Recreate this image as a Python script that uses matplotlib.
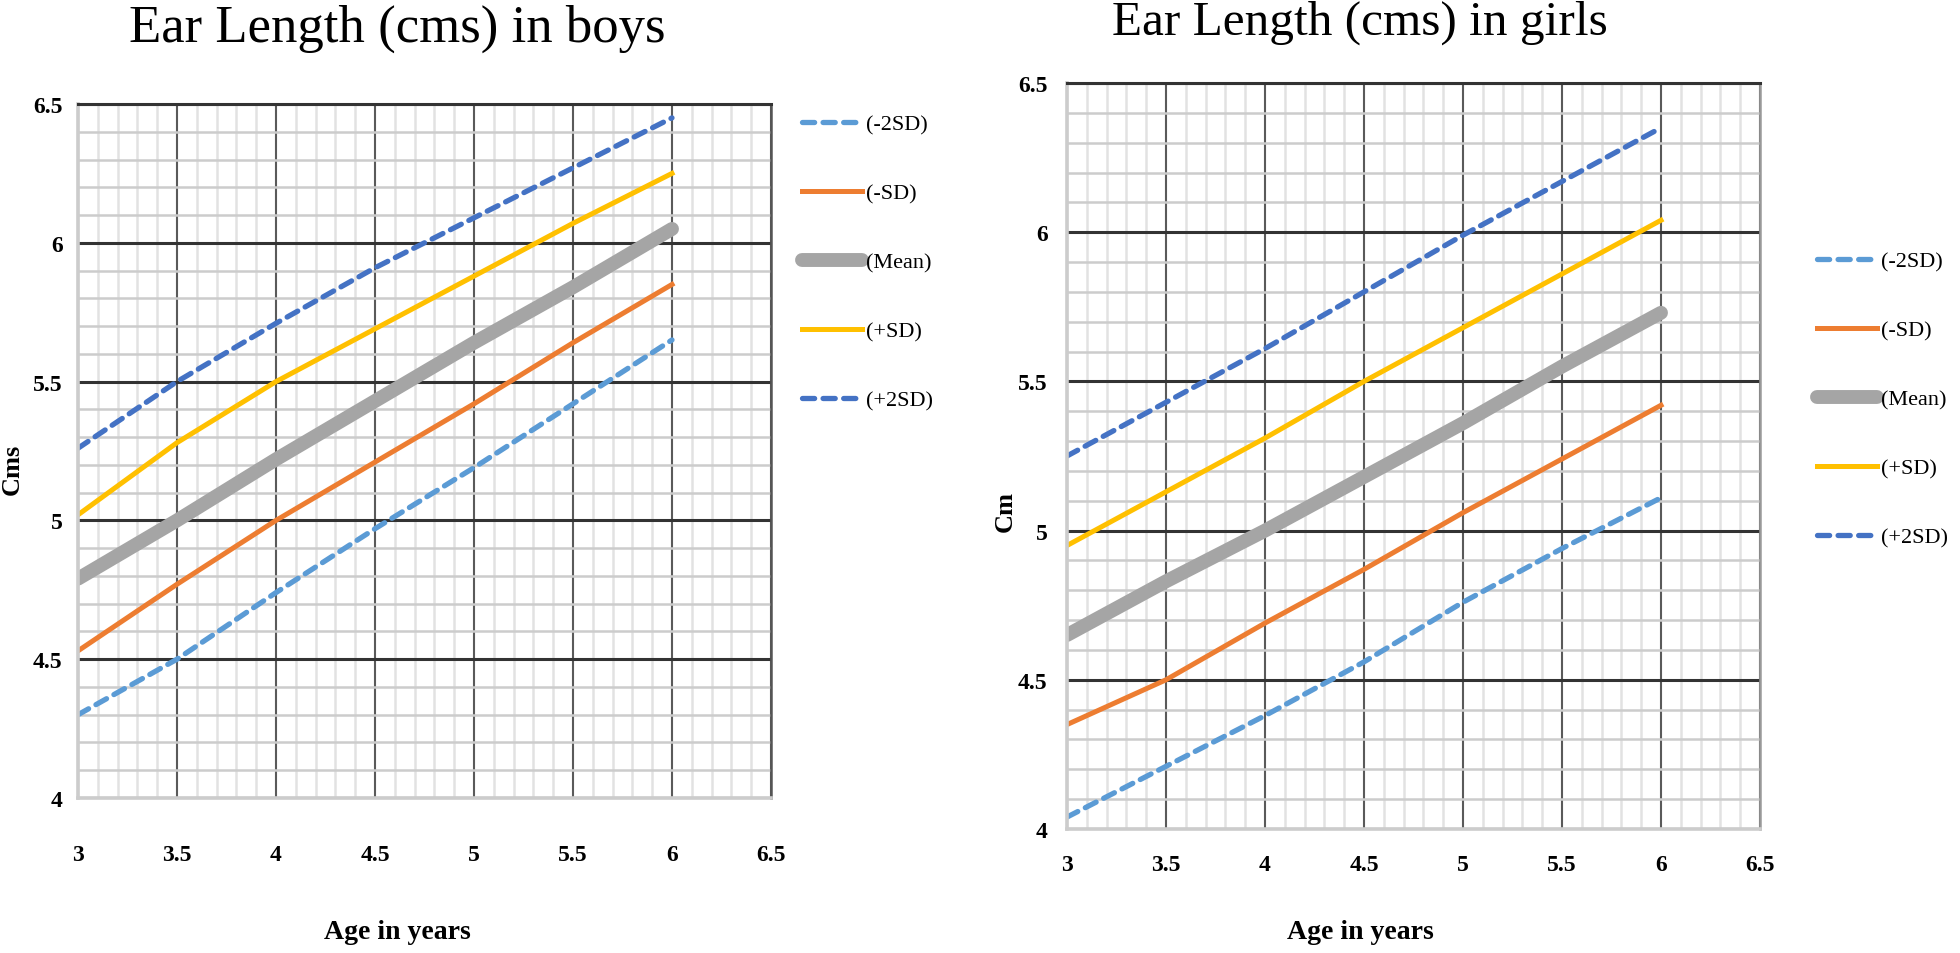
import matplotlib
matplotlib.use("Agg")
import matplotlib.pyplot as plt
from matplotlib.ticker import MultipleLocator

plt.rcParams['font.family'] = ['Liberation Serif', 'DejaVu Serif']

# ---------------- data ----------------
age = [3, 3.5, 4, 4.5, 5, 5.5, 6]

boys_m2sd = [4.30, 4.50, 4.74, 4.97, 5.19, 5.42, 5.65]
boys_m1sd = [4.53, 4.77, 5.00, 5.21, 5.42, 5.64, 5.85]
boys_mean = [4.79, 5.00, 5.22, 5.43, 5.64, 5.84, 6.05]
boys_p1sd = [5.02, 5.28, 5.50, 5.69, 5.88, 6.07, 6.25]
boys_p2sd = [5.26, 5.50, 5.71, 5.91, 6.09, 6.27, 6.45]

girls_m2sd = [4.04, 4.21, 4.38, 4.56, 4.76, 4.94, 5.11]
girls_m1sd = [4.35, 4.50, 4.69, 4.87, 5.06, 5.24, 5.42]
girls_mean = [4.65, 4.83, 5.00, 5.18, 5.36, 5.55, 5.73]
girls_p1sd = [4.95, 5.13, 5.31, 5.50, 5.68, 5.86, 6.04]
girls_p2sd = [5.25, 5.43, 5.61, 5.80, 5.99, 6.17, 6.35]

series_labels = ['(-2SD)', '(-SD)', '(Mean)', '(+SD)', '(+2SD)']
titles = ['Ear Length (cms) in boys', 'Ear Length (cms) in girls']
ylabels = ['Cms', 'Cm']
xlabel = 'Age in years'
xticks = [3, 3.5, 4, 4.5, 5, 5.5, 6, 6.5]
yticks = [4, 4.5, 5, 5.5, 6, 6.5]

# ---------------- styles ----------------
styles = [
    dict(color='#5B9BD5', lw=3.8, ls=(0, (2.3, 1.6)), dash_capstyle='round'),
    dict(color='#ED7D31', lw=3.6, ls='-'),
    dict(color='#A5A5A5', lw=10, ls='-', solid_capstyle='round'),
    dict(color='#FFC000', lw=3.6, ls='-'),
    dict(color='#4472C4', lw=3.8, ls=(0, (2.3, 1.6)), dash_capstyle='round'),
]

W, H = 1960, 954
fig = plt.figure(figsize=(W / 100, H / 100), dpi=100)


def px_rect(l, t, r, b):
    return [l / W, 1 - b / H, (r - l) / W, (b - t) / H]


def fmt(v):
    return ('%g' % v)


def setup(ax, right_spine_color):
    ax.set_xlim(3, 6.5)
    ax.set_ylim(4, 6.5)
    ax.xaxis.set_minor_locator(MultipleLocator(0.1))
    ax.yaxis.set_minor_locator(MultipleLocator(0.1))
    ax.set_xticks(xticks)
    ax.set_xticklabels([fmt(v) for v in xticks])
    ax.set_yticks(yticks)
    ax.set_yticklabels([fmt(v) for v in yticks])
    ax.set_axisbelow(True)
    ax.grid(which='minor', axis='x', color='#e2e2e2', lw=1.8)
    ax.grid(which='minor', axis='y', color='#cccccc', lw=1.8)
    ax.grid(which='major', axis='x', color='#5a5a5a', lw=1.5)
    ax.grid(which='major', axis='y', color='#333333', lw=2.2)
    ax.tick_params(which='both', length=0)
    for s in ['left', 'bottom']:
        ax.spines[s].set_color('#cccccc')
        ax.spines[s].set_linewidth(2.6)
    ax.spines['top'].set_color('#333333')
    ax.spines['top'].set_linewidth(2.2)
    ax.spines['right'].set_color(right_spine_color)
    ax.spines['right'].set_linewidth(1.8)
    for lab in ax.get_xticklabels() + ax.get_yticklabels():
        lab.set_fontweight('bold')
        lab.set_fontsize(17)


# ---------------- left: boys ----------------
ax1 = fig.add_axes(px_rect(78, 105, 771, 799))
setup(ax1, '#555555')
for vals, st, lab in zip([boys_m2sd, boys_m1sd, boys_mean, boys_p1sd, boys_p2sd],
                         styles, series_labels):
    ax1.plot(age, vals, label=lab, **st)
ax1.tick_params(axis='x', pad=33)
ax1.tick_params(axis='y', pad=11)

# ---------------- right: girls ----------------
ax2 = fig.add_axes(px_rect(1067, 84, 1760, 830))
setup(ax2, '#999999')
for vals, st, lab in zip([girls_m2sd, girls_m1sd, girls_mean, girls_p1sd, girls_p2sd],
                         styles, series_labels):
    ax2.plot(age, vals, label=lab, **st)
ax2.tick_params(axis='x', pad=18)
ax2.tick_params(axis='y', pad=14)

# ---------------- texts ----------------
fig.text(397 / W, 1 - 29 / H, titles[0], ha='center', va='center', fontsize=38)
fig.text(1360 / W, 1 - 23 / H, titles[1], ha='center', va='center', fontsize=35.5)
fig.text(397 / W, 1 - 933 / H, xlabel, ha='center', va='center', fontsize=20, fontweight='bold')
fig.text(1360 / W, 1 - 933 / H, xlabel, ha='center', va='center', fontsize=20, fontweight='bold')
fig.text(12 / W, 1 - 469 / H, ylabels[0], ha='center', va='center', fontsize=19,
         fontweight='bold', rotation=90)
fig.text(1005 / W, 1 - 512 / H, ylabels[1], ha='center', va='center', fontsize=19,
         fontweight='bold', rotation=90)

# ---------------- legends ----------------
leg_kw = dict(frameon=False, fontsize=16, handlelength=2.7, labelspacing=2.18,
              handletextpad=0.2, borderpad=0, borderaxespad=0, loc='upper left')
h1, l1 = ax1.get_legend_handles_labels()
fig.legend(h1, l1, bbox_to_anchor=(802 / W, 1 - 115 / H), **leg_kw)
h2, l2 = ax2.get_legend_handles_labels()
fig.legend(h2, l2, bbox_to_anchor=(1817 / W, 1 - 252 / H), **leg_kw)

fig.savefig('out.png', dpi=100)
